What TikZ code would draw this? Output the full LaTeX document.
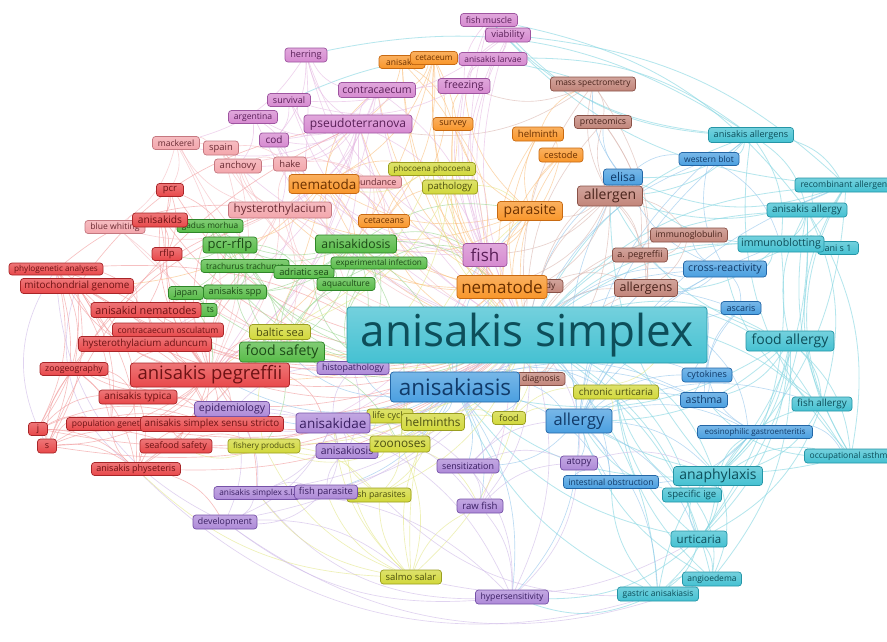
\documentclass[tikz,border=0pt]{standalone}
\usepackage{fontspec}
\setmainfont{Open Sans}
\pgfdeclarelayer{background}
\pgfsetlayers{background,main}
\newcommand\fsz[1]{\fontsize{#1}{#1}\selectfont}
\definecolor{rF}{HTML}{E8484A}\definecolor{rD}{HTML}{A82528}\definecolor{rT}{HTML}{6E1214}
\definecolor{sF}{HTML}{F3A6AC}\definecolor{sD}{HTML}{C57880}\definecolor{sT}{HTML}{6A2B33}
\definecolor{kF}{HTML}{D68AD0}\definecolor{kD}{HTML}{9E55A0}\definecolor{kT}{HTML}{5A1F58}
\definecolor{oF}{HTML}{F9962A}\definecolor{oD}{HTML}{C86A12}\definecolor{oT}{HTML}{6A3000}
\definecolor{gF}{HTML}{57BB47}\definecolor{gD}{HTML}{2E8628}\definecolor{gT}{HTML}{1C4A16}
\definecolor{yF}{HTML}{D2D83A}\definecolor{yD}{HTML}{9A9E20}\definecolor{yT}{HTML}{4C4F10}
\definecolor{pF}{HTML}{AE8AD8}\definecolor{pD}{HTML}{7652A8}\definecolor{pT}{HTML}{3A1F62}
\definecolor{bF}{HTML}{4A9FE0}\definecolor{bD}{HTML}{2366A6}\definecolor{bT}{HTML}{113A68}
\definecolor{cF}{HTML}{45C1D2}\definecolor{cD}{HTML}{2595A6}\definecolor{cT}{HTML}{0D4E5A}
\definecolor{nF}{HTML}{C2857A}\definecolor{nD}{HTML}{8A5248}\definecolor{nT}{HTML}{4A241C}
\tikzset{
 lbl/.style={rounded corners=3pt, line width=0.7pt, inner sep=0pt},
 b/.style n args={3}{minimum width=#1, minimum height=#2, font=\fsz{#3}},
 cR/.style={lbl, top color=rF!75!white, bottom color=rF, draw=rD, text=rT},
 cS/.style={lbl, top color=sF!75!white, bottom color=sF, draw=sD, text=sT},
 cK/.style={lbl, top color=kF!75!white, bottom color=kF, draw=kD, text=kT},
 cO/.style={lbl, top color=oF!75!white, bottom color=oF, draw=oD, text=oT},
 cG/.style={lbl, top color=gF!75!white, bottom color=gF, draw=gD, text=gT},
 cY/.style={lbl, top color=yF!75!white, bottom color=yF, draw=yD, text=yT},
 cP/.style={lbl, top color=pF!75!white, bottom color=pF, draw=pD, text=pT},
 cB/.style={lbl, top color=bF!75!white, bottom color=bF, draw=bD, text=bT},
 cC/.style={lbl, top color=cF!75!white, bottom color=cF, draw=cD, text=cT},
 cN/.style={lbl, top color=nF!75!white, bottom color=nF, draw=nD, text=nT},
 ed/.style={line width=0.65pt, opacity=0.62},
 eR/.style={ed, draw=rF!55!white}, eS/.style={ed, draw=sF!75!white},
 eK/.style={ed, draw=kF!60!white}, eO/.style={ed, draw=oF!60!white},
 eG/.style={ed, draw=gF!60!white}, eY/.style={ed, draw=yF!60!white},
 eP/.style={ed, draw=pF!60!white}, eB/.style={ed, draw=bF!60!white},
 eC/.style={ed, line width=0.8pt, draw=cF!65!white}, eN/.style={ed, draw=nF!60!white}
}
\begin{document}
\begin{tikzpicture}[x=1pt, y=-1pt]
\useasboundingbox (0,0) rectangle (887,641);
% orchid
\node[cK,b={42}{14}{9.2}] (herring) at (306,55) {herring};
\node[cK,b={43}{13}{9}] (survival) at (289,100) {survival};
\node[cK,b={49}{13}{8.6}] (argentina) at (253,117) {argentina};
\node[cK,b={29}{14}{10}] (cod) at (274,140) {cod};
\node[cK,b={77}{15}{10.5}] (contra) at (377,90) {contracaecum};
\node[cK,b={108}{18}{12}] (pseudo) at (358,124) {pseudoterranova};
\node[cK,b={52}{15}{10.5}] (freezing) at (464,86) {freezing};
\node[cK,b={57}{13}{8.8}] (fmuscle) at (489,20) {fish muscle};
\node[cK,b={45}{14}{9.4}] (viability) at (508,35) {viability};
\node[cK,b={68}{13}{8.4}] (alarvae) at (493,59) {anisakis larvae};
\node[cK,b={44}{23}{17}] (fish) at (485,255) {fish};
% salmon
\node[cS,b={47}{13}{8.6}] (mackerel) at (176,143) {mackerel};
\node[cS,b={35}{14}{9.4}] (spain) at (221,148) {spain};
\node[cS,b={47}{14}{9.5}] (anchovy) at (238,166) {anchovy};
\node[cS,b={33}{14}{9.4}] (hake) at (290,164) {hake};
\node[cS,b={57}{12}{9}] (abund) at (373,182) {abundance};
\node[cS,b={103}{16}{11.5}] (hyster) at (280,210) {hysterothylacium};
\node[cS,b={60}{13}{8.6}] (bwhiting) at (115,227) {blue whiting};
% orange
\node[cO,b={70}{19}{13.5}] (nematoda) at (324,184) {nematoda};
\node[cO,b={51}{13}{8.7}] (cetaceans) at (384,221) {cetaceans};
\node[cO,b={46}{13}{8.5}] (anisakisO) at (402,62) {anisakis};
\node[cO,b={47}{13}{8.2}] (cetaceum) at (434,58) {cetaceum};
\node[cO,b={40}{13}{9}] (survey) at (453,124) {survey};
\node[cO,b={51}{14}{9.6}] (helminth) at (538,134) {helminth};
\node[cO,b={44}{14}{9.2}] (cestode) at (561,155) {cestode};
\node[cO,b={65}{19}{14}] (parasite) at (530,211) {parasite};
% brown
\node[cN,b={50}{13}{8.5}] (antibody) at (538,286) {antibody};
\node[cN,b={65}{20}{14}] (allergen) at (610,196) {allergen};
\node[cN,b={63}{17}{12.5}] (allergens) at (646,288) {allergens};
\node[cN,b={55}{14}{9}] (apegb) at (640,255) {a. pegreffii};
\node[cN,b={77}{14}{8.7}] (immunoglob) at (689,235) {immunoglobulin};
\node[cN,b={57}{13}{8.8}] (proteomics) at (603,122) {proteomics};
\node[cN,b={85}{14}{8.4}] (massspec) at (593,84) {mass spectrometry};
\node[cN,b={48}{13}{8.6}] (diagnosis) at (541,379) {diagnosis};
\node[cO,b={90}{23}{17}] (nematode) at (502,287) {nematode};
% red
\node[cR,b={27}{13}{9.5}] (pcr) at (170,190) {pcr};
\node[cG,b={66}{13}{8.3}] (gadus) at (210,226) {gadus morhua};
\node[cR,b={55}{14}{10.2}] (anisakids) at (160,220) {anisakids};
\node[cR,b={30}{13}{9.5}] (rflp) at (167,254) {rflp};
\node[cR,b={94}{12}{8.2}] (phylo) at (56,269) {phylogenetic analyses};
\node[cR,b={113}{15}{9.9}] (mito) at (77,286) {mitochondrial genome};
\node[cG,b={40}{13}{8.5},text width=34,align=right] (hidts) at (197,310) {ts};
\node[cR,b={110}{15}{10.8}] (anem) at (146,310) {anisakid nematodes};
\node[cR,b={111}{14}{8.6}] (cosc) at (168,330) {contracaecum osculatum};
\node[cR,b={133}{15}{9.8}] (hadun) at (145,344) {hysterothylacium aduncum};
\node[cR,b={68}{13}{8.7}] (zoogeo) at (74,369) {zoogeography};
\node[cR,b={159}{24}{18.5}] (apeg) at (210,375) {anisakis pegreffii};
\node[cR,b={78}{14}{10}] (atyp) at (138,397) {anisakis typica};
\node[cR,b={89}{13}{8.5}] (popgen) at (111,424) {population genetics};
\node[cR,b={143}{15}{9.8}] (asss) at (212,424) {anisakis simplex sensu stricto};
\node[cR,b={19}{13}{9}] (jj) at (38,429) {j};
\node[cR,b={19}{14}{9}] (ss) at (47,446) {s};
\node[cR,b={72}{14}{9.1}] (seafood) at (176,446) {seafood safety};
\node[cR,b={89}{13}{9}] (aphys) at (136,469) {anisakis physeteris};
% green
\node[cG,b={54}{16}{13}] (pcrrflp) at (230,245) {pcr-rflp};
\node[cG,b={88}{13}{8.4}] (trach) at (245,266) {trachurus trachurus};
\node[cG,b={60}{13}{9.3}] (adriatic) at (304,272) {adriatic sea};
\node[cG,b={35}{13}{9}] (japan) at (186,293) {japan};
\node[cG,b={63}{14}{9.3}] (aspp) at (235,292) {anisakis spp};
\node[cG,b={85}{20}{14}] (foodsafety) at (282,352) {food safety};
\node[cG,b={81}{18}{12.2}] (anisakidosis) at (356,244) {anisakidosis};
\node[cG,b={96}{12}{8.2}] (expinf) at (379,263) {experimental infection};
\node[cG,b={58}{13}{8.5}] (aquac) at (346,284) {aquaculture};
% yellow
\node[cY,b={61}{15}{11}] (baltic) at (280,332) {baltic sea};
\node[cY,b={87}{13}{8.1}] (phoc) at (432,169) {phocoena phocoena};
\node[cY,b={55}{14}{9.6}] (pathology) at (450,187) {pathology};
\node[cY,b={72}{14}{8.2}] (fishery) at (264,446) {fishery products};
\node[cY,b={46}{14}{9}] (lifecycle) at (390,416) {life cycle};
\node[cY,b={33}{13}{9}] (food) at (509,418) {food};
\node[cY,b={64}{14}{8.7}] (fparasites) at (379,495) {fish parasites};
\node[cY,b={61}{14}{9.5}] (salmo) at (411,577) {salmo salar};
\node[cY,b={85}{14}{9.8}] (chronic) at (616,392) {chronic urticaria};
% purple
\node[cP,b={75}{15}{10.5}] (epid) at (232,409) {epidemiology};
\node[cP,b={72}{13}{8.9}] (histo) at (353,368) {histopathology};
\node[cP,b={74}{20}{13.5}] (anisakidae) at (333,423) {anisakidae};
\node[cY,b={63}{17}{11.8}] (helminths) at (433,422) {helminths};
\node[cP,b={62}{15}{10.4}] (anisakiosis) at (347,451) {anisakiosis};
\node[cY,b={60}{16}{11.8}] (zoonoses) at (400,444) {zoonoses};
\node[cP,b={86}{13}{8.3}] (asl) at (257,493) {anisakis simplex s.l.};
\node[cP,b={63}{14}{9.5}] (fparasite) at (326,492) {fish parasite};
\node[cP,b={64}{14}{8.8}] (devel) at (225,522) {development};
\node[cP,b={62}{14}{8.9}] (sensit) at (468,466) {sensitization};
\node[cP,b={37}{14}{9.5}] (atopy) at (579,463) {atopy};
\node[cP,b={46}{14}{9.6}] (rawfish) at (480,506) {raw fish};
\node[cP,b={73}{14}{8.6}] (hypersens) at (512,597) {hypersensitivity};
% blue
\node[cB,b={129}{30}{22.5}] (anisakiasis) at (455,387) {anisakiasis};
\node[cB,b={66}{24}{16.5}] (allergy) at (579,421) {allergy};
\node[cB,b={95}{13}{8.6}] (intobs) at (611,482) {intestinal obstruction};
\node[cB,b={115}{13}{8}] (eosin) at (755,432) {eosinophilic gastroenteritis};
\node[cB,b={47}{15}{10.5}] (asthma) at (704,400) {asthma};
\node[cB,b={50}{14}{9.1}] (cytok) at (707,375) {cytokines};
\node[cB,b={40}{13}{9}] (ascaris) at (741,308) {ascaris};
\node[cB,b={83}{16}{10.6}] (crossr) at (725,269) {cross-reactivity};
\node[cB,b={60}{13}{8.5}] (wblot) at (709,159) {western blot};
\node[cB,b={39}{16}{12}] (elisa) at (623,177) {elisa};
% cyan
\node[cC,b={360}{56}{44}] (asim) at (527,335) {anisakis simplex};
\node[cC,b={88}{20}{14}] (foodallergy) at (790,341) {food allergy};
\node[cC,b={41}{13}{9}] (anis1) at (838,248) {ani s 1};
\node[cC,b={86}{16}{10.6}] (immunob) at (781,244) {immunoblotting};
\node[cC,b={80}{14}{9.9}] (aallergy) at (807,210) {anisakis allergy};
\node[cC,b={102}{14}{8.7}] (recomb) at (846,185) {recombinant allergens};
\node[cC,b={85}{15}{9.1}] (aallergens) at (751,135) {anisakis allergens};
\node[cC,b={60}{14}{9.9}] (fishallergy) at (822,404) {fish allergy};
\node[cC,b={93}{14}{8.5}] (occasthma) at (851,456) {occupational asthma};
\node[cC,b={89}{19}{14}] (anaph) at (718,476) {anaphylaxis};
\node[cC,b={59}{14}{9.6}] (sige) at (692,495) {specific ige};
\node[cC,b={56}{16}{11.5}] (urtic) at (699,539) {urticaria};
\node[cC,b={59}{14}{8.5}] (angio) at (712,579) {angioedema};
\node[cC,b={81}{14}{8.5}] (gastric) at (658,594) {gastric anisakiasis};

\begin{pgfonlayer}{background}
\fill[white] (0,0) rectangle (887,641);
% long outer arcs
\foreach \a/\b/\c in {gastric/aphys/30,angio/devel/28,hypersens/asl/25,gastric/fparasites/22,urtic/salmo/20,devel/phylo/30,aphys/mito/35,ss/phylo/30}
 \draw[eP] (\a) to[bend left=\c] (\b);
\foreach \a/\b/\c in {herring/aallergens/22,fmuscle/aallergy/20,viability/recomb/18,alarvae/aallergens/18,survival/massspec/20,occasthma/recomb/30,occasthma/aallergens/25,fishallergy/recomb/25}
 \draw[eC] (\a) to[bend left=\c] (\b);
\foreach \a/\b in {asim/foodallergy,asim/immunob,asim/aallergy,asim/recomb,asim/aallergens,asim/fishallergy,asim/occasthma,asim/anaph,asim/sige,asim/urtic,asim/angio,asim/gastric,asim/anis1,
foodallergy/anaph,foodallergy/urtic,foodallergy/fishallergy,foodallergy/occasthma,foodallergy/aallergy,foodallergy/allergy,foodallergy/anisakiasis,foodallergy/sige,foodallergy/asthma,foodallergy/allergen,foodallergy/angio,
anaph/urtic,anaph/angio,anaph/gastric,anaph/sige,anaph/anisakiasis,anaph/eosin,anaph/occasthma,anaph/allergen,anaph/fishallergy,
urtic/angio,urtic/gastric,urtic/sige,urtic/chronic,urtic/anisakiasis,gastric/anisakiasis,gastric/angio,gastric/intobs,gastric/eosin,
aallergens/recomb,aallergens/aallergy,aallergens/immunob,aallergens/allergen,aallergens/wblot,aallergens/elisa,aallergens/fmuscle,aallergens/viability,
aallergy/recomb,aallergy/immunob,aallergy/occasthma,aallergy/fishallergy,aallergy/anaph,aallergy/urtic,
immunob/anis1,immunob/elisa,immunob/allergens,immunob/crossr,immunob/urtic,recomb/elisa,recomb/allergen,recomb/crossr,recomb/anaph,recomb/fmuscle,
fishallergy/anaph,fishallergy/urtic,fishallergy/crossr,occasthma/asthma,occasthma/allergy,occasthma/aallergy,
sige/angio,sige/allergy,sige/chronic,angio/chronic,angio/allergy,gastric/hypersens,urtic/hypersens}
 \draw[eC] (\a) to[bend left=20] (\b);
\foreach \a/\b in {asim/anisakiasis,asim/allergy,asim/intobs,asim/eosin,asim/asthma,asim/cytok,asim/ascaris,asim/crossr,asim/wblot,asim/elisa,
allergy/anaph,allergy/urtic,allergy/gastric,allergy/eosin,allergy/asthma,allergy/cytok,allergy/intobs,allergy/crossr,allergy/ascaris,allergy/wblot,allergy/elisa,allergy/immunob,allergy/aallergens,allergy/atopy,allergy/hypersens,allergy/sensit,allergy/chronic,allergy/allergens,allergy/recomb,allergy/fishallergy,
anisakiasis/allergy,anisakiasis/intobs,anisakiasis/eosin,anisakiasis/asthma,anisakiasis/cytok,anisakiasis/crossr,anisakiasis/diagnosis,anisakiasis/rawfish,anisakiasis/fish,anisakiasis/nematode,anisakiasis/parasite,anisakiasis/zoonoses,anisakiasis/helminths,anisakiasis/anisakidae,anisakiasis/anisakiosis,anisakiasis/food,anisakiasis/chronic,anisakiasis/epid,anisakiasis/histo,anisakiasis/sensit,anisakiasis/hypersens,anisakiasis/apeg,anisakiasis/foodsafety,anisakiasis/lifecycle,anisakiasis/fparasite,
crossr/ascaris,crossr/wblot,crossr/elisa,crossr/allergens,crossr/apegb,crossr/immunoglob,elisa/wblot,elisa/allergen,elisa/massspec,elisa/proteomics,
eosin/intobs,eosin/cytok,eosin/occasthma,cytok/asthma,cytok/ascaris,asthma/ascaris,intobs/atopy,wblot/immunob}
 \draw[eB] (\a) to[bend left=20] (\b);
\foreach \a/\b in {asim/allergen,asim/allergens,asim/apegb,asim/immunoglob,asim/proteomics,asim/massspec,asim/diagnosis,asim/antibody,
allergen/allergens,allergen/apegb,allergen/immunoglob,allergen/proteomics,allergen/massspec,allergen/diagnosis,allergen/antibody,allergen/parasite,allergen/nematode,allergen/fish,
massspec/proteomics,massspec/allergens,massspec/freezing,massspec/pseudo,proteomics/allergens,proteomics/apegb,immunoglob/allergens,immunoglob/apegb,apegb/allergens,diagnosis/allergens,diagnosis/nematode,antibody/allergens,antibody/elisa}
 \draw[eN] (\a) to[bend left=20] (\b);
\foreach \a/\b in {asim/nematoda,asim/cetaceans,asim/anisakisO,asim/cetaceum,asim/survey,asim/helminth,asim/cestode,asim/parasite,asim/nematode,
nematode/parasite,nematode/fish,nematode/nematoda,nematode/helminth,nematode/cestode,nematode/survey,nematode/cetaceans,nematode/anisakisO,nematode/cetaceum,nematode/hyster,nematode/pseudo,nematode/contra,nematode/anisakidosis,nematode/apeg,nematode/phoc,nematode/pathology,
parasite/fish,parasite/helminth,parasite/cestode,parasite/survey,parasite/nematoda,parasite/freezing,
nematoda/cetaceans,nematoda/hyster,nematoda/pseudo,nematoda/anisakidosis,nematoda/pcrrflp,nematoda/contra,nematoda/phoc,nematoda/aphys,
cetaceum/anisakisO,cetaceum/phoc,cetaceum/pathology,cetaceum/cetaceans,cetaceum/contra,cetaceum/nematoda,anisakisO/survey,anisakisO/fish,anisakisO/pseudo,
helminth/cestode,helminth/massspec,cestode/fish,survey/fish,survey/freezing,cetaceans/phoc,cetaceans/pathology,
nematoda/foodsafety,nematode/foodsafety,parasite/anisakidosis,cetaceum/apeg,nematoda/mito,parasite/hyster}
 \draw[eO] (\a) to[bend left=20] (\b);
\foreach \a/\b in {asim/herring,asim/survival,asim/argentina,asim/cod,asim/contra,asim/pseudo,asim/freezing,asim/fmuscle,asim/viability,asim/alarvae,asim/fish,
pseudo/contra,pseudo/herring,pseudo/survival,pseudo/argentina,pseudo/cod,pseudo/freezing,pseudo/fish,pseudo/hyster,pseudo/anisakidosis,pseudo/apeg,pseudo/anchovy,pseudo/hake,pseudo/mackerel,pseudo/nematoda,pseudo/aphys,
contra/herring,contra/cod,contra/fish,contra/hyster,contra/cosc,
fish/freezing,fish/viability,fish/fmuscle,fish/alarvae,fish/herring,fish/cod,fish/survival,fish/hake,fish/anchovy,fish/rawfish,fish/fishery,fish/anisakidae,
freezing/viability,freezing/fmuscle,freezing/alarvae,freezing/survival,viability/fmuscle,viability/alarvae,viability/survival,
herring/cod,herring/mackerel,argentina/hake,argentina/anchovy,survival/cod,cod/hyster,
pseudo/foodsafety,contra/apeg,herring/apeg,fish/anisakiasis}
 \draw[eK] (\a) to[bend left=20] (\b);
\foreach \a/\b in {asim/mackerel,asim/spain,asim/anchovy,asim/hake,asim/abund,asim/hyster,asim/bwhiting,
hyster/mackerel,hyster/spain,hyster/anchovy,hyster/hake,hyster/abund,hyster/bwhiting,hyster/hadun,hyster/apeg,hyster/anem,hyster/foodsafety,hyster/aquac,
mackerel/anchovy,mackerel/spain,mackerel/bwhiting,mackerel/pcr,spain/anchovy,spain/hake,anchovy/hake,anchovy/abund,hake/abund,bwhiting/anisakids,bwhiting/apeg,abund/cetaceans,abund/anisakidosis,mackerel/apeg,anchovy/apeg,spain/apeg}
 \draw[eS] (\a) to[bend left=20] (\b);
\foreach \a/\b in {asim/pcr,asim/anisakids,asim/rflp,asim/phylo,asim/mito,asim/anem,asim/cosc,asim/hadun,asim/zoogeo,asim/apeg,asim/atyp,asim/popgen,asim/asss,asim/jj,asim/ss,asim/seafood,asim/aphys,
apeg/pcr,apeg/anisakids,apeg/rflp,apeg/phylo,apeg/mito,apeg/anem,apeg/cosc,apeg/hadun,apeg/zoogeo,apeg/atyp,apeg/popgen,apeg/asss,apeg/jj,apeg/ss,apeg/seafood,apeg/aphys,apeg/pcrrflp,apeg/trach,apeg/aspp,apeg/japan,apeg/foodsafety,apeg/baltic,apeg/anisakidae,apeg/asl,apeg/epid,apeg/gadus,
phylo/mito,phylo/jj,phylo/ss,phylo/anem,phylo/popgen,phylo/zoogeo,mito/anem,mito/jj,mito/ss,mito/popgen,mito/asss,mito/atyp,
jj/ss,jj/popgen,jj/asss,jj/aphys,jj/atyp,ss/popgen,ss/asss,ss/aphys,ss/zoogeo,ss/seafood,
zoogeo/atyp,zoogeo/aphys,zoogeo/popgen,atyp/aphys,atyp/asss,atyp/popgen,aphys/asss,aphys/popgen,aphys/seafood,aphys/devel,
pcr/anisakids,pcr/rflp,pcr/pcrrflp,anisakids/rflp,anisakids/anem,anem/cosc,anem/hadun,cosc/hadun,hadun/asss,seafood/asss,seafood/foodsafety,seafood/fishery,
phylo/hyster,phylo/epid,mito/aphys,ss/pseudo,jj/hyster,zoogeo/hyster,mito/pseudo,phylo/anisakiasis}
 \draw[eR] (\a) to[bend left=20] (\b);
\foreach \a/\b in {asim/gadus,asim/pcrrflp,asim/trach,asim/adriatic,asim/japan,asim/aspp,asim/foodsafety,asim/anisakidosis,asim/expinf,asim/aquac,
anisakidosis/expinf,anisakidosis/aquac,anisakidosis/adriatic,anisakidosis/foodsafety,anisakidosis/pcrrflp,anisakidosis/trach,anisakidosis/gadus,anisakidosis/aspp,anisakidosis/japan,anisakidosis/fish,anisakidosis/anisakiasis,anisakidosis/zoonoses,anisakidosis/histo,
pcrrflp/gadus,pcrrflp/trach,pcrrflp/aspp,pcrrflp/japan,pcrrflp/adriatic,pcrrflp/foodsafety,pcrrflp/rflp,
foodsafety/adriatic,foodsafety/aquac,foodsafety/expinf,foodsafety/trach,foodsafety/aspp,foodsafety/fishery,foodsafety/zoonoses,foodsafety/baltic,
trach/adriatic,trach/gadus,trach/aspp,japan/aspp,adriatic/aquac,expinf/aquac,expinf/histo,gadus/aspp,hidts/aspp,hidts/apeg,
anisakidosis/parasite,anisakidosis/nematode,expinf/fish}
 \draw[eG] (\a) to[bend left=20] (\b);
\foreach \a/\b in {asim/baltic,asim/phoc,asim/pathology,asim/fishery,asim/lifecycle,asim/helminths,asim/food,asim/zoonoses,asim/fparasites,asim/salmo,asim/chronic,
zoonoses/helminths,zoonoses/fparasites,zoonoses/salmo,zoonoses/fishery,zoonoses/lifecycle,zoonoses/food,zoonoses/anisakidae,zoonoses/anisakiosis,zoonoses/rawfish,
salmo/fparasites,salmo/helminths,salmo/anisakidae,salmo/rawfish,salmo/nematode,salmo/fparasite,salmo/fishery,salmo/anisakiosis,salmo/asl,salmo/aphys,
helminths/lifecycle,helminths/food,helminths/fparasites,helminths/fishery,helminths/anisakidae,
fishery/baltic,fishery/fparasites,fishery/seafood,phoc/pathology,phoc/baltic,pathology/histo,pathology/baltic,baltic/foodsafety,food/chronic,food/allergy,chronic/allergy,lifecycle/anisakidae,fparasites/anisakidae,
phoc/nematoda,pathology/parasite,zoonoses/parasite}
 \draw[eY] (\a) to[bend left=20] (\b);
\foreach \a/\b in {asim/epid,asim/histo,asim/anisakidae,asim/anisakiosis,asim/asl,asim/fparasite,asim/devel,asim/sensit,asim/atopy,asim/rawfish,asim/hypersens,
anisakidae/asl,anisakidae/fparasite,anisakidae/devel,anisakidae/epid,anisakidae/histo,anisakidae/anisakiosis,anisakidae/sensit,anisakidae/rawfish,anisakidae/hypersens,
epid/histo,epid/anisakiosis,epid/asl,epid/devel,histo/anisakiosis,asl/devel,asl/fparasite,asl/hypersens,fparasite/devel,fparasite/anisakiosis,
sensit/rawfish,sensit/hypersens,sensit/atopy,sensit/allergy,rawfish/hypersens,rawfish/atopy,atopy/hypersens,hypersens/devel,atopy/anaph,devel/salmo}
 \draw[eP] (\a) to[bend left=20] (\b);
\end{pgfonlayer}
\end{tikzpicture}
\end{document}
